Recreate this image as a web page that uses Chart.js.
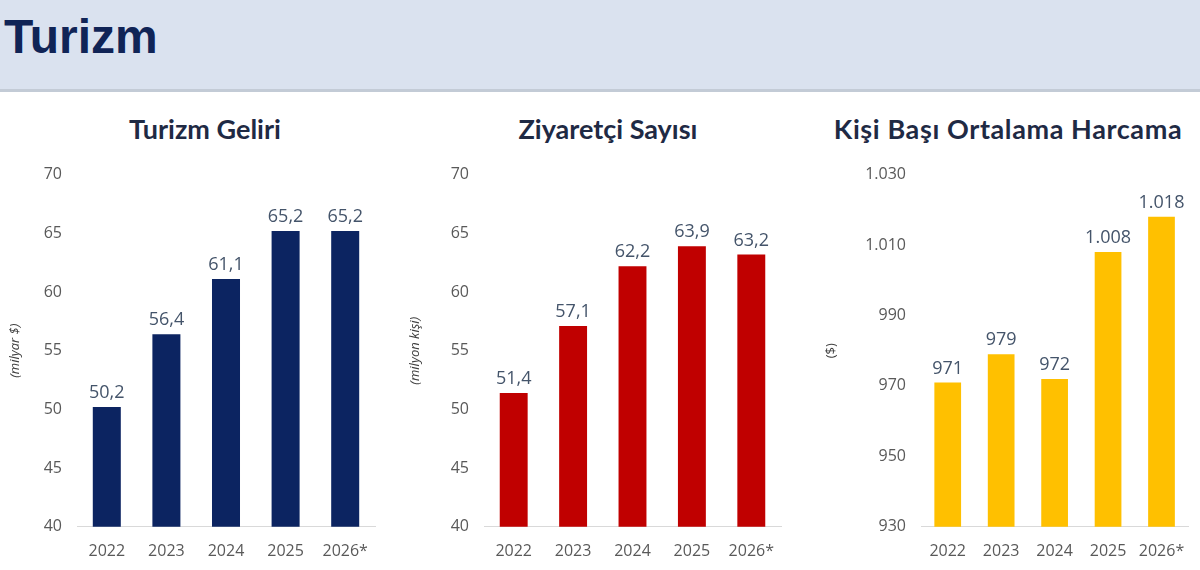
<!DOCTYPE html>
<html>
<head>
<meta charset="utf-8">
<script src="https://cdn.jsdelivr.net/npm/chart.js@4.4.1/dist/chart.umd.min.js"></script>
<style>
  html, body { margin:0; padding:0; background:#ffffff; width:1200px; height:570px; overflow:hidden; position:relative; }
  #band { position:absolute; left:0; top:0; width:1200px; height:89px; background:#dae2ef; border-bottom:3px solid #c3cbd6; }
  #band h1 { position:absolute; left:4px; top:9px; margin:0; font-family:"Liberation Sans", Arial, sans-serif; font-weight:bold; font-size:48px; color:#102456; }
  .ttl { position:absolute; top:112px; font-family:"Lato","Open Sans",sans-serif; font-weight:bold; font-size:27px; color:#1f2a44; text-align:center; white-space:nowrap; }
  .wrap { position:absolute; top:150px; height:426px; }
</style>
</head>
<body>
<div id="band"><h1>Turizm</h1></div>
<div class="ttl" style="left:105px;width:200px;">Turizm Geliri</div>
<div class="ttl" style="left:508px;width:200px;">Ziyaretçi Sayısı</div>
<div class="ttl" style="left:823px;width:370px;letter-spacing:0.6px;">Kişi Başı Ortalama Harcama</div>
<div class="wrap" style="left:0px;width:395px;"><canvas id="c1"></canvas></div>
<div class="wrap" style="left:395px;width:405px;"><canvas id="c2"></canvas></div>
<div class="wrap" style="left:800px;width:400px;"><canvas id="c3"></canvas></div>
<script>
const years = ["2022", "2023", "2024", "2025", "2026*"];
const revenue = [50.2, 56.4, 61.1, 65.2, 65.2];          // milyar $
const visitors = [51.4, 57.1, 62.2, 63.9, 63.2];         // milyon kişi
const spending = [971, 979, 972, 1008, 1018];            // $
const revenueTicks = [40, 70, 5];
const visitorTicks = [40, 70, 5];
const spendingTicks = [930, 1030, 20];

function trNum(v, decimals) {
  let s = v.toFixed(decimals);
  let parts = s.split(".");
  let intPart = parts[0].replace(/\B(?=(\d{3})+(?!\d))/g, ".");
  return parts.length > 1 ? intPart + "," + parts[1] : intPart;
}

const labelPlugin = {
  id: "valueLabels",
  afterDatasetsDraw(chart) {
    const ctx = chart.ctx;
    const meta = chart.getDatasetMeta(0);
    const ds = chart.data.datasets[0];
    ctx.save();
    ctx.font = "18px 'Open Sans', sans-serif";
    ctx.fillStyle = "#44546a";
    ctx.textAlign = "center";
    ctx.textBaseline = "bottom";
    meta.data.forEach((bar, i) => {
      ctx.fillText(trNum(ds.data[i], ds.decimals), bar.x, bar.y - 5);
    });
    ctx.restore();
  }
};

Chart.defaults.font.family = "'Open Sans', sans-serif";
Chart.defaults.color = "#595959";

function makeChart(id, data, color, tickCfg, axisTitle, italic, decimals, yWidth, padRight, barPct, titlePad) {
  return new Chart(document.getElementById(id), {
    type: "bar",
    data: {
      labels: years,
      datasets: [{ data: data, backgroundColor: color, decimals: decimals,
                   categoryPercentage: 1.0, barPercentage: barPct }]
    },
    options: {
      responsive: true,
      maintainAspectRatio: false,
      animation: false,
      layout: { padding: { top: 22, right: padRight, bottom: 0, left: 0 } },
      plugins: { legend: { display: false }, tooltip: { enabled: false } },
      scales: {
        x: {
          grid: { display: false, drawTicks: false },
          border: { display: true, color: "#d9d9d9", width: 1 },
          ticks: { font: { size: 16 }, color: "#595959", padding: 15 }
        },
        y: {
          min: tickCfg[0], max: tickCfg[1],
          grid: { display: false, drawTicks: false },
          border: { display: false },
          ticks: { stepSize: tickCfg[2], font: { size: 16 }, color: "#595959", padding: 15,
                   callback: (v) => trNum(v, 0) },
          title: { display: true, text: axisTitle, color: "#404040",
                   font: { size: 13, style: italic ? "italic" : "normal" }, padding: { top: titlePad, bottom: 0 } },
          afterFit: (scale) => { scale.width = yWidth; }
        }
      }
    },
    plugins: [labelPlugin]
  });
}

makeChart("c1", revenue, "#0c2461", revenueTicks, "(milyar $)", true, 1, 77, 20, 0.47, 7);
makeChart("c2", visitors, "#c00000", visitorTicks, "(milyon kişi)", true, 1, 89, 19, 0.47, 12);
makeChart("c3", spending, "#ffc000", spendingTicks, "($)", false, 0, 121, 8, 0.5, 23);
</script>
</body>
</html>
